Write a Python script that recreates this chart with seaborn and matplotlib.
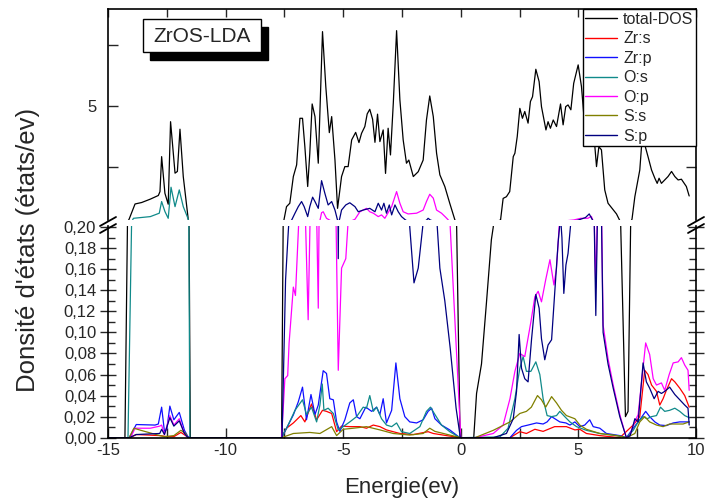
"""
ZrOS-LDA density of states: total + partial DOS, broken y axis
(0 - 0.2 in the lower panel, 0.3 - 9 in the upper panel).
"""

import matplotlib
matplotlib.use("Agg")
import matplotlib.pyplot as plt
from matplotlib.ticker import MultipleLocator, FuncFormatter
from matplotlib.lines import Line2D
from matplotlib.patches import Rectangle
import pandas as pd
import seaborn as sns

# (energy in eV, DOS in states/eV)
TOTAL_DOS = [
    (-15, 0), (-14.28, 0), (-14.1, 0.34), (-13.85, 0.96), (-13.57, 1.02), (-13.2, 1.16),
    (-12.86, 1.31), (-12.79, 1.47), (-12.72, 2.91), (-12.58, 1.40), (-12.44, 0.95),
    (-12.34, 4.35), (-12.15, 2.23), (-12.05, 2.30), (-11.94, 4.04), (-11.8, 2.09),
    (-11.59, 0.34), (-11.5, 0), (-7.62, 0), (-7.52, 0.30), (-7.41, 0.85), (-7.27, 0.99),
    (-7.12, 2.09), (-6.98, 2.57), (-6.84, 4.49), (-6.73, 4.49), (-6.63, 3.32), (-6.51, 1.68),
    (-6.42, 3.05), (-6.32, 5.08), (-6.20, 4.56), (-6.06, 2.64), (-5.88, 8.06), (-5.74, 5.80),
    (-5.59, 3.90), (-5.49, 4.56), (-5.35, 2.77), (-5.24, 0.78), (-5.07, 2.09), (-4.93, 2.50),
    (-4.79, 2.50), (-4.64, 3.60), (-4.47, 3.91), (-4.33, 3.49), (-4.22, 3.87), (-4.08, 4.15),
    (-3.98, 4.67), (-3.87, 4.86), (-3.75, 4.45), (-3.65, 3.50), (-3.54, 4.66), (-3.44, 3.53),
    (-3.30, 4.01), (-3.20, 2.22), (-3.09, 4.08), (-2.99, 2.98), (-2.87, 5.11), (-2.73, 8.10),
    (-2.59, 5.25), (-2.45, 3.60), (-2.31, 2.64), (-2.21, 2.77), (-2.02, 2.09), (-1.81, 2.29),
    (-1.60, 2.77), (-1.46, 4.42), (-1.32, 5.41), (-1.17, 4.56), (-1.03, 3.05), (-0.89, 2.16),
    (-0.68, 1.68), (-0.47, 0.99), (-0.25, 0.30), (-0.03, 0), (0.55, 0), (0.67, 0.042),
    (0.88, 0.07), (1.09, 0.128), (1.30, 0.188), (1.38, 0.2), (1.69, 0.30), (1.80, 1.19),
    (1.94, 1.26), (2.08, 1.47), (2.23, 2.91), (2.30, 3.05), (2.40, 3.74), (2.51, 4.90),
    (2.62, 4.49), (2.72, 4.77), (2.86, 4.29), (2.96, 5.18), (3.05, 5.38), (3.19, 6.51),
    (3.33, 6.00), (3.43, 4.97), (3.62, 4.01), (3.71, 4.35), (3.81, 4.08), (3.93, 4.42),
    (4.07, 4.15), (4.24, 5.08), (4.35, 4.22), (4.46, 4.97), (4.56, 5.04), (4.68, 4.84),
    (4.80, 5.93), (4.99, 6.69), (5.13, 5.80), (5.23, 4.63), (5.4, 4.2), (5.55, 4.0),
    (5.70, 3.32), (5.77, 2.50), (5.87, 3.32), (5.98, 3.19), (6.12, 1.54), (6.26, 0.99),
    (6.48, 0.72), (6.62, 0.55), (6.80, 0.2), (7.0, 0.02), (7.11, 0.025), (7.22, 0.2),
    (7.28, 0.34), (7.40, 1.26), (7.61, 2.36), (7.75, 4.2), (7.85, 3.3), (7.96, 2.91),
    (8.11, 2.36), (8.25, 2.02), (8.35, 1.81), (8.43, 2.02), (8.53, 1.81), (8.67, 1.95),
    (8.81, 2.09), (8.96, 2.30), (9.10, 2.09), (9.24, 1.95), (9.38, 1.98), (9.59, 1.68),
    (9.71, 1.29),
]

ZR_S = [
    (-15, 0), (-14.05, 0), (-13.8, 0.003), (-12.8, 0.002), (-12.5, 0.001), (-12.2, 0.001),
    (-11.9, 0.005), (-11.7, 0.002), (-11.58, 0), (-7.62, 0), (-7.41, 0.009), (-7.12, 0.014),
    (-6.80, 0.021), (-6.63, 0.015), (-6.35, 0.032), (-6.13, 0.017), (-5.88, 0.026),
    (-5.71, 0.025), (-5.49, 0.023), (-5.28, 0.0057), (-5.07, 0.011), (-4.72, 0.0105),
    (-4.29, 0.0105), (-4.01, 0.009), (-3.72, 0.012), (-3.44, 0.0105), (-3.16, 0.0074),
    (-2.59, 0.004), (-2.02, 0.003), (-1.39, 0.0057), (-1.17, 0.004), (-0.61, 0.002), (0, 0),
    (2.09, 0), (2.51, 0.0057), (2.79, 0.004), (3.15, 0.008), (3.50, 0.006), (3.99, 0.0105),
    (4.49, 0.0105), (4.85, 0.0074), (5.06, 0.008), (5.34, 0.004), (5.91, 0.002), (6.76, 0),
    (7.33, 0.012), (7.61, 0.02), (7.82, 0.064), (7.96, 0.060), (8.11, 0.050), (8.32, 0.044),
    (8.46, 0.031), (8.60, 0.037), (8.74, 0.045), (8.96, 0.056), (9.10, 0.053), (9.31, 0.047),
    (9.52, 0.040), (9.71, 0.029),
]

ZR_P = [
    (-15, 0), (-14.1, 0), (-14.0, 0.004), (-13.8, 0.0125), (-13.0, 0.012), (-12.86, 0.013),
    (-12.72, 0.029), (-12.6, 0.006), (-12.5, 0.008), (-12.37, 0.030), (-12.2, 0.017),
    (-11.97, 0.024), (-11.75, 0.007), (-11.6, 0.001), (-11.5, 0), (-7.62, 0), (-7.41, 0.0089),
    (-7.12, 0.0216), (-6.91, 0.034), (-6.73, 0.048), (-6.56, 0.017), (-6.37, 0.041),
    (-6.20, 0.022), (-6.06, 0.031), (-5.85, 0.0636), (-5.71, 0.061), (-5.57, 0.037),
    (-5.42, 0.036), (-5.28, 0.015), (-5.14, 0.006), (-4.93, 0.017), (-4.72, 0.033),
    (-4.57, 0.036), (-4.43, 0.020), (-4.29, 0.018), (-4.04, 0.029), (-3.79, 0.025),
    (-3.58, 0.029), (-3.44, 0.022), (-3.30, 0.037), (-3.16, 0.014), (-2.94, 0.026),
    (-2.76, 0.071), (-2.59, 0.037), (-2.38, 0.020), (-2.17, 0.015), (-1.88, 0.014),
    (-1.60, 0.017), (-1.39, 0.025), (-1.24, 0.028), (-1.10, 0.018), (-0.82, 0.012),
    (-0.47, 0.0074), (-0.04, 0), (2.09, 0), (2.37, 0.007), (2.58, 0.0105), (2.86, 0.012),
    (3.22, 0.014), (3.50, 0.013), (3.67, 0.015), (3.86, 0.020), (4.0, 0.018), (4.21, 0.015),
    (4.47, 0.014), (4.64, 0.012), (4.85, 0.015), (5.06, 0.0105), (5.27, 0.012), (5.48, 0.017),
    (5.63, 0.0105), (5.91, 0.009), (6.19, 0.004), (6.76, 0.002), (7.04, 0), (7.33, 0.009),
    (7.61, 0.017), (7.86, 0.025), (8.03, 0.020), (8.25, 0.015), (8.46, 0.012), (8.74, 0.0115),
    (9.03, 0.014), (9.31, 0.015), (9.52, 0.015), (9.71, 0.015),
]

O_S = [
    (-15, 0), (-14.15, 0), (-14.0, 0.2), (-13.92, 0.37), (-13.2, 0.44), (-12.82, 0.58),
    (-12.72, 1.06), (-12.58, 0.65), (-12.44, 0.37), (-12.32, 1.65), (-12.15, 0.85),
    (-11.97, 1.54), (-11.8, 0.85), (-11.59, 0.34), (-11.52, 0), (-7.62, 0), (-7.34, 0.012),
    (-7.05, 0.026), (-6.73, 0.036), (-6.56, 0.022), (-6.35, 0.029), (-6.13, 0.015),
    (-5.99, 0.031), (-5.89, 0.051), (-5.82, 0.026), (-5.64, 0.028), (-5.42, 0.023),
    (-5.21, 0.0074), (-5.0, 0.0105), (-4.72, 0.015), (-4.43, 0.020), (-4.15, 0.029),
    (-4.01, 0.028), (-3.87, 0.040), (-3.72, 0.025), (-3.58, 0.029), (-3.37, 0.018),
    (-3.16, 0.012), (-2.94, 0.0105), (-2.73, 0.014), (-2.52, 0.0057), (-2.17, 0.004),
    (-1.74, 0.0105), (-1.46, 0.025), (-1.29, 0.029), (-1.10, 0.022), (-0.82, 0.012),
    (-0.47, 0.0057), (-0.04, 0), (1.66, 0.0007), (2.01, 0.009), (2.30, 0.037), (2.51, 0.066),
    (2.65, 0.077), (2.79, 0.063), (2.98, 0.063), (3.19, 0.072), (3.36, 0.060), (3.50, 0.037),
    (3.67, 0.021), (3.86, 0.020), (4.07, 0.021), (4.21, 0.025), (4.42, 0.020), (4.64, 0.015),
    (4.92, 0.0105), (5.34, 0.007), (5.91, 0.004), (6.62, 0.002), (7.04, 0), (7.33, 0.007),
    (7.54, 0.015), (7.75, 0.020), (7.92, 0.018), (8.11, 0.020), (8.32, 0.021), (8.49, 0.029),
    (8.67, 0.025), (8.88, 0.026), (9.10, 0.028), (9.31, 0.025), (9.52, 0.021), (9.71, 0.019),
]

O_P = [
    (-15, 0), (-14.1, 0), (-14.0, 0.002), (-13.85, 0.009), (-13.2, 0.009), (-12.8, 0.011),
    (-12.72, 0.012), (-12.6, 0.003), (-12.37, 0.021), (-12.2, 0.012), (-11.97, 0.018),
    (-11.75, 0.004), (-11.6, 0), (-7.62, 0), (-7.48, 0.056), (-7.36, 0.059), (-7.3, 0.09),
    (-7.12, 0.143), (-7.03, 0.135), (-6.88, 0.21), (-6.75, 0.28), (-6.62, 0.22),
    (-6.49, 0.112), (-6.38, 0.24), (-6.25, 0.28), (-6.12, 0.2), (-6.06, 0.123), (-5.98, 0.32),
    (-5.92, 0.60), (-5.85, 0.64), (-5.71, 0.37), (-5.55, 0.28), (-5.38, 0.22), (-5.3, 0.2),
    (-5.21, 0.064), (-5.07, 0.161), (-4.89, 0.170), (-4.75, 0.22), (-4.50, 0.33),
    (-4.29, 0.64), (-4.01, 0.78), (-3.87, 0.64), (-3.72, 0.58), (-3.51, 0.44), (-3.37, 0.51),
    (-3.23, 0.37), (-2.94, 0.85), (-2.73, 1.47), (-2.59, 0.99), (-2.45, 0.64), (-2.24, 0.55),
    (-1.88, 0.58), (-1.60, 0.71), (-1.46, 1.06), (-1.32, 1.36), (-1.17, 1.20), (-1.03, 0.71),
    (-0.82, 0.58), (-0.65, 0.42), (-0.55, 0.32), (-0.45, 0.2), (0.0, 0), (0.6, 0),
    (1.38, 0.004), (1.80, 0.012), (2.09, 0.037), (2.30, 0.063), (2.51, 0.080), (2.72, 0.077),
    (2.98, 0.110), (3.15, 0.134), (3.29, 0.139), (3.43, 0.129), (3.61, 0.150), (3.79, 0.169),
    (3.96, 0.145), (4.07, 0.161), (4.21, 0.21), (4.4, 0.26), (4.8, 0.3), (5.1, 0.37),
    (5.4, 0.37), (5.55, 0.45), (5.63, 0.25), (5.74, 0.142), (5.84, 0.25), (5.98, 0.22),
    (6.05, 0.107), (6.26, 0.075), (6.48, 0.050), (6.76, 0.022), (7.04, 0), (7.18, 0.0013),
    (7.33, 0.012), (7.54, 0.022), (7.72, 0.060), (7.86, 0.090), (8.03, 0.079), (8.18, 0.056),
    (8.32, 0.050), (8.53, 0.052), (8.67, 0.045), (8.86, 0.060), (9.03, 0.071), (9.24, 0.072),
    (9.38, 0.076), (9.52, 0.069), (9.66, 0.064), (9.71, 0.045),
]

S_S = [
    (-15, 0), (-14.1, 0), (-13.9, 0.009), (-13.6, 0.007), (-12.8, 0.002), (-12.6, 0.001),
    (-12.2, 0.002), (-11.9, 0.007), (-11.7, 0.004), (-11.6, 0), (-7.62, 0), (-7.12, 0.004),
    (-6.42, 0.005), (-5.99, 0.004), (-5.49, 0.0105), (-5.28, 0.002), (-5.0, 0.008),
    (-4.57, 0.009), (-4.01, 0.0105), (-3.44, 0.0074), (-2.87, 0.004), (-2.17, 0.0025),
    (-1.60, 0.004), (-1.32, 0.009), (-1.10, 0.006), (-0.47, 0.0025), (0, 0), (0.6, 0),
    (1.38, 0.007), (2.09, 0.015), (2.51, 0.023), (2.79, 0.025), (3.0, 0.029), (3.26, 0.040),
    (3.43, 0.036), (3.61, 0.029), (3.86, 0.039), (4.07, 0.033), (4.28, 0.026), (4.49, 0.021),
    (4.85, 0.018), (5.06, 0.012), (5.34, 0.008), (5.91, 0.004), (6.62, 0.002), (7.04, 0),
    (7.40, 0.004), (7.61, 0.015), (7.82, 0.020), (8.03, 0.015), (8.32, 0.012), (8.60, 0.0105),
    (8.88, 0.013), (9.17, 0.013), (9.45, 0.013), (9.71, 0.015),
]

S_P = [
    (-15, 0), (-14.1, 0), (-14.0, 0.001), (-13.8, 0.003), (-12.8, 0.004), (-12.72, 0.008),
    (-12.6, 0.003), (-12.37, 0.019), (-12.2, 0.011), (-11.97, 0.016), (-11.75, 0.004),
    (-11.6, 0), (-7.6, 0), (-7.45, 0.15), (-7.35, 0.19), (-7.27, 0.22), (-7.19, 0.30),
    (-7.05, 0.58), (-6.91, 0.85), (-6.77, 1.06), (-6.66, 0.85), (-6.51, 0.44), (-6.42, 0.85),
    (-6.30, 1.24), (-6.20, 1.06), (-6.06, 0.78), (-5.92, 1.92), (-5.78, 1.40), (-5.64, 0.92),
    (-5.49, 1.06), (-5.35, 0.71), (-5.25, 0.33), (-5.21, 0.17), (-5.15, 0.35), (-5.07, 0.71),
    (-4.89, 0.92), (-4.72, 1.01), (-4.50, 0.85), (-4.36, 0.64), (-4.15, 0.71), (-3.87, 0.78),
    (-3.65, 0.64), (-3.51, 0.99), (-3.37, 0.71), (-3.27, 0.99), (-3.16, 0.58), (-3.04, 0.92),
    (-2.94, 0.51), (-2.80, 0.92), (-2.66, 0.64), (-2.52, 0.44), (-2.35, 0.30), (-2.17, 0.2),
    (-1.99, 0.147), (-1.81, 0.161), (-1.62, 0.2), (-1.45, 0.3), (-1.39, 0.37), (-1.3, 0.3),
    (-1.0, 0.2), (-0.89, 0.161), (-0.68, 0.13), (-0.45, 0.085), (-0.2, 0.028), (-0.02, 0),
    (1.38, 0), (1.94, 0.004), (2.23, 0.018), (2.37, 0.044), (2.48, 0.098), (2.58, 0.066),
    (2.72, 0.056), (2.86, 0.053), (3.01, 0.094), (3.19, 0.136), (3.33, 0.123), (3.43, 0.094),
    (3.57, 0.074), (3.71, 0.088), (3.86, 0.093), (4.0, 0.140), (4.14, 0.186), (4.24, 0.21),
    (4.30, 0.19), (4.38, 0.137), (4.47, 0.164), (4.56, 0.175), (4.7, 0.21), (5.0, 0.3),
    (5.3, 0.4), (5.46, 0.55), (5.6, 0.3), (5.74, 0.116), (5.84, 0.25), (5.98, 0.21),
    (6.05, 0.10), (6.26, 0.07), (6.48, 0.047), (6.76, 0.02), (7.04, 0), (7.2, 0.002),
    (7.33, 0.012), (7.40, 0.018), (7.54, 0.015), (7.75, 0.071), (7.89, 0.053), (8.03, 0.047),
    (8.22, 0.037), (8.39, 0.044), (8.53, 0.042), (8.67, 0.044), (8.88, 0.048), (9.10, 0.041),
    (9.31, 0.036), (9.52, 0.031), (9.66, 0.028), (9.71, 0.012),
]

SERIES = {
    "total-DOS": TOTAL_DOS,
    "Zr:s": ZR_S,
    "Zr:p": ZR_P,
    "O:s": O_S,
    "O:p": O_P,
    "S:s": S_S,
    "S:p": S_P,
}
COLORS = {
    "total-DOS": "#000000",
    "Zr:s": "#ff0000",
    "Zr:p": "#1010ff",
    "O:s": "#108a8a",
    "O:p": "#ff00ff",
    "S:s": "#808000",
    "S:p": "#000080",
}

rows = []
for name, pts in SERIES.items():
    for e, v in pts:
        rows.append({"energy": e, "dos": v, "series": name})
df = pd.DataFrame(rows)

sns.set_theme(style="white")
plt.rcParams["font.family"] = ["Liberation Sans", "DejaVu Sans"]
plt.rcParams["axes.linewidth"] = 1.2
plt.rcParams["axes.unicode_minus"] = False

W, H = 706, 501
fig = plt.figure(figsize=(W / 100, H / 100), dpi=100)


def fig_box(x0, y0, x1, y1):
    # pixel box (top-left origin) -> figure fraction rect
    return [x0 / W, 1 - y1 / H, (x1 - x0) / W, (y1 - y0) / H]


ax_hi = fig.add_axes(fig_box(108, 9.3, 696, 220))
ax_lo = fig.add_axes(fig_box(108, 226, 696, 437.7))

order = list(SERIES.keys())
for ax in (ax_hi, ax_lo):
    sns.lineplot(data=df, x="energy", y="dos", hue="series", hue_order=order,
                 palette=COLORS, estimator=None, sort=False, linewidth=0.9,
                 ax=ax, legend=(ax is ax_hi))
    ax.set_xlim(-15, 10)
    ax.set_xlabel("")
    ax.set_ylabel("")
    for s in ax.spines.values():
        s.set_color("black")
        s.set_linewidth(1.2)

# upper panel
ax_hi.set_ylim(0.30, 8.98)
ax_hi.spines["bottom"].set_visible(False)
ax_hi.yaxis.set_major_locator(MultipleLocator(5))
ax_hi.yaxis.set_minor_locator(MultipleLocator(2.5))
ax_hi.xaxis.set_major_locator(MultipleLocator(5))
ax_hi.xaxis.set_minor_locator(MultipleLocator(2.5))
ax_hi.tick_params(axis="x", which="both", bottom=False, top=True, labelbottom=False,
                  direction="in", length=6, width=1)
ax_hi.tick_params(axis="y", which="both", left=True, right=True, direction="in",
                  length=7, width=1, labelsize=12, pad=8)

# lower panel
ax_lo.set_ylim(0, 0.201)
ax_lo.spines["top"].set_visible(False)
ax_lo.yaxis.set_major_locator(MultipleLocator(0.02))
ax_lo.yaxis.set_minor_locator(MultipleLocator(0.01))
ax_lo.yaxis.set_major_formatter(FuncFormatter(lambda v, p: f"{v:.2f}".replace(".", ",")))
ax_lo.xaxis.set_major_locator(MultipleLocator(5))
ax_lo.xaxis.set_minor_locator(MultipleLocator(2.5))
ax_lo.tick_params(axis="x", which="both", bottom=True, top=False, direction="in",
                  length=7, width=1, labelsize=12, pad=4)
ax_lo.tick_params(axis="y", which="major", left=True, right=True, direction="inout",
                  length=11, width=1, labelsize=12, pad=3)
ax_lo.tick_params(axis="y", which="minor", left=True, right=True, direction="in",
                  length=5, width=1)

# legend
handles, labels = ax_hi.get_legend_handles_labels()
leg = ax_hi.legend(handles, labels, loc="upper right", bbox_to_anchor=(1, 1),
                   borderaxespad=0, fontsize=11.5, frameon=True, fancybox=False,
                   framealpha=1, edgecolor="black", borderpad=0.15,
                   labelspacing=0.28, handlelength=2.0, handletextpad=0.4)
leg.get_frame().set_linewidth(1.0)
for line in leg.get_lines():
    line.set_linewidth(1.0)

# title box with black drop shadow (pixel rectangles, text on top)
fig.add_artist(Rectangle((150 / W, 1 - 60 / H), 118 / W, 33 / H,
                         transform=fig.transFigure, fc="black", ec="black", zorder=5))
fig.add_artist(Rectangle((143 / W, 1 - 52 / H), 118 / W, 33 / H,
                         transform=fig.transFigure, fc="white", ec="black", lw=1.0,
                         zorder=6))
fig.text(202 / W, 1 - 36 / H, "ZrOS-LDA", fontsize=15, ha="center", va="center",
         zorder=7)

# axis break marks
for xc in (108, 696):
    for dy in (0, 7):
        fig.add_artist(Line2D([(xc - 8) / W, (xc + 8) / W],
                              [1 - (226 + dy) / H, 1 - (217 + dy) / H],
                              color="black", linewidth=1.3))

fig.text(402 / W, 1 - 488 / H, "Energie(ev)", fontsize=16, ha="center", va="center")
fig.text(28 / W, 1 - 250 / H, "Donsité d'états (états/ev)", fontsize=18.5,
         rotation=90, ha="center", va="center")

fig.savefig("out.png", dpi=100)
